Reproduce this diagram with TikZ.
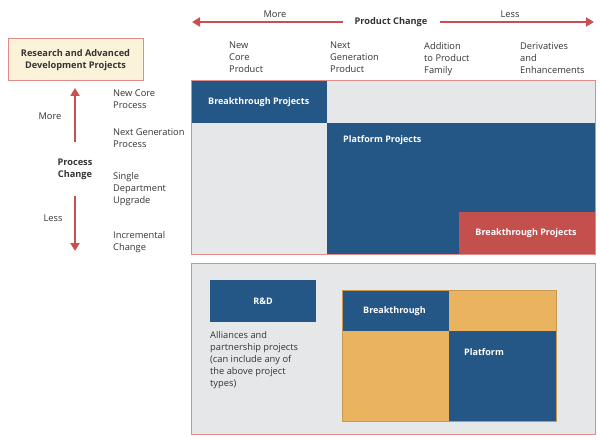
\documentclass[tikz,border=0pt]{standalone}
\usepackage{fontspec}
\setmainfont{Open Sans}
\usetikzlibrary{arrows.meta}
\definecolor{pblue}{HTML}{245785}
\definecolor{pred}{HTML}{C4504E}
\definecolor{porange}{HTML}{EAB35F}
\definecolor{pgray}{HTML}{E6E7E8}
\definecolor{pborder}{HTML}{E08A8A}
\definecolor{pcream}{HTML}{FAF3D9}
\definecolor{ptext}{HTML}{333333}
\definecolor{parrow}{HTML}{C9504E}
\begin{document}
\begin{tikzpicture}[x=1pt,y=-1pt,
  lbl/.style={font=\fontsize{9.3}{12}\selectfont, text=ptext, align=left, anchor=north west, inner sep=0pt},
  wlbl/.style={font=\fontsize{9}{12}\selectfont\bfseries, text=white, inner sep=0pt},
  blbl/.style={font=\fontsize{9.2}{12}\selectfont\bfseries, text=ptext, align=center},
  arr/.style={draw=parrow, line width=2pt, -{Triangle[length=8pt,width=9pt]}},
  cell/.style={draw=none, inner sep=0pt, outer sep=0pt}]
\useasboundingbox (0,0) rectangle (600,441);
% top arrow
\node[blbl, inner xsep=12pt] (pc) at (391,22) {Product Change};
\coordinate (pl) at (192,22);
\coordinate (pr) at (594,22);
\draw[arr] (pc.west) -- (pl);
\draw[arr] (pc.east) -- (pr);
\node[lbl, anchor=center] (moreT) at (275,14) {More};
\node[lbl, anchor=center] (lessT) at (510,14) {Less};
% column labels
\node[lbl] (c1) at (229,42) {New\\Core\\Product};
\node[lbl] (c2) at (330,42) {Next\\Generation\\Product};
\node[lbl] (c3) at (424,42) {Addition\\to Product\\Family};
\node[lbl] (c4) at (520,42) {Derivatives\\and\\Enhancements};
% research box
\node[draw=pborder, fill=pcream, line width=1pt, minimum width=135pt, minimum height=42pt, blbl, text=ptext] (rad) at (75.5,60) {Research and Advanced\\Development Projects};
% vertical arrow
\node[blbl, inner ysep=16pt] (pcv) at (75,169) {Process\\Change};
\coordinate (pu) at (75,88);
\coordinate (pd) at (75,251);
\draw[arr] (pcv.north) -- (pu);
\draw[arr] (pcv.south) -- (pd);
\node[lbl, anchor=center] (moreL) at (50,116) {More};
\node[lbl, anchor=center] (lessL) at (53,218) {Less};
% row labels
\node[lbl] (r1) at (113,90) {New Core\\Process};
\node[lbl] (r2) at (113,128) {Next Generation\\Process};
\node[lbl] (r3) at (113,172) {Single\\Department\\Upgrade};
\node[lbl] (r4) at (113,231) {Incremental\\Change};
% top matrix
\fill[pgray] (191,81) rectangle (595,254);
\fill[pblue] (191,81) rectangle (327,123);
\fill[pblue] (327,123) rectangle (595,254);
\fill[pred] (459,212) rectangle (595,254);
\node[wlbl, anchor=west] (bp1) at (208,102) {Breakthrough Projects};
\node[wlbl, anchor=west] (pp) at (343,140) {Platform Projects};
\node[wlbl] (bp2) at (526,233) {Breakthrough Projects};
\draw[pborder, line width=1pt] (191,81) rectangle (595,254);
% bottom panel
\fill[pgray] (191,263) rectangle (595,434);
\draw[pborder, line width=1pt] (191,263) rectangle (595,434);
\fill[pblue] (210,280) rectangle (316,322);
\node[wlbl] (rd) at (263,301) {R\&D};
\node[lbl] (al) at (210,331) {Alliances and\\partnership projects\\(can include any of\\the above project\\types)};
% small matrix
\fill[pblue] (342,290) rectangle (449,331);
\fill[porange] (449,290) rectangle (556,331);
\fill[porange] (342,331) rectangle (449,421);
\fill[pblue] (449,331) rectangle (556,421);
\draw[porange!85!black, line width=0.6pt] (342,290) rectangle (556,421);
\node[wlbl, anchor=west] (bt) at (363,311) {Breakthrough};
\node[wlbl, anchor=west] (pf) at (464,352) {Platform};
\end{tikzpicture}
\end{document}
